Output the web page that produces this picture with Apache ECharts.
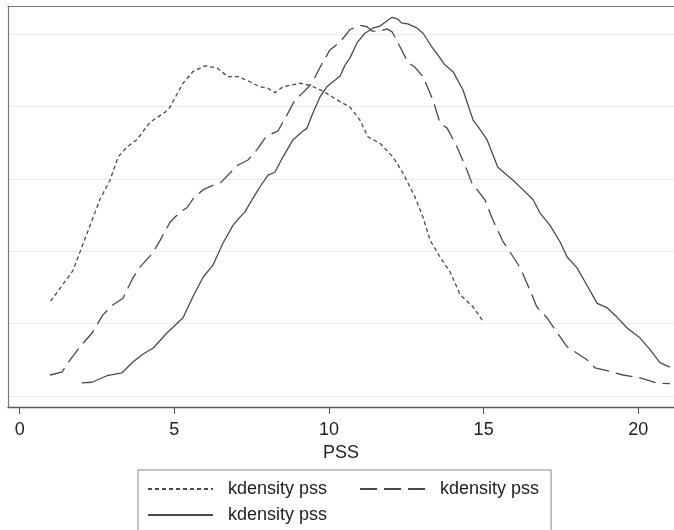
<!DOCTYPE html>
<html lang="en">
<head>
    <meta charset="UTF-8">
    <title>kdensity pss</title>
    <script src="https://cdn.jsdelivr.net/npm/echarts@6.0.0/dist/echarts.min.js"></script>
    <style>
        html, body { margin: 0; padding: 0; background: #fff; }
        #chart { width: 674px; height: 530px; }
    </style>
</head>
<body>
    <div id="chart"></div>
    <script>
        // x ticks and y gridlines
        const xTicks = [0, 5, 10, 15, 20];
        const yGrid = [0, 0.02, 0.04, 0.06, 0.08, 0.1];
        const legendLabel = 'kdensity pss';

        // short-dash curve
        const pssX1 = [1.0, 1.72, 1.95, 2.60, 2.92, 3.18, 3.47, 3.79, 4.21, 4.70, 4.86, 5.28, 5.60, 5.99, 6.38, 6.73,
            7.06, 7.45, 7.77, 8.03, 8.25, 8.51, 9.06, 9.39, 9.81, 10.26, 10.68, 11.0, 11.26, 11.65, 12.07, 12.39,
            12.78, 13.04, 13.27, 13.59, 13.92, 14.24, 14.66, 15.0];
        const pssY1 = [.0262, .0346, .0398, .0544, .0596, .0660, .0688, .0708, .0756, .0784, .0798, .0864, .0896, .0912, .0906, .0882,
            .0882, .0868, .0854, .0850, .0838, .0854, .0864, .0858, .0842, .0818, .0798, .0762, .0716, .0698, .0660, .0616,
            .0550, .0494, .0430, .0384, .0342, .0280, .0246, .0204];

        // long-dash curve
        const pssX2 = [0.98, 1.36, 1.63, 1.95, 2.34, 2.69, 3.02, 3.34, 3.66, 3.89, 4.31, 4.54, 4.86, 5.18, 5.41, 5.60,
            5.93, 6.25, 6.48, 6.80, 7.06, 7.38, 7.67, 7.93, 8.19, 8.35, 8.64, 8.90, 9.16, 9.45, 9.71, 10.03,
            10.36, 10.68, 11.0, 11.23, 11.39, 11.65, 11.87, 12.04, 12.30, 12.55, 12.78, 13.04, 13.36, 13.59, 13.82, 14.14,
            14.46, 14.62, 14.88, 15.04, 15.30, 15.63, 15.85, 16.17, 16.50, 16.72, 17.05, 17.37, 17.70, 18.02, 18.34, 18.60,
            18.99, 19.51, 20.06, 20.60, 21.02];
        const pssY2 = [.0058, .0066, .0100, .0136, .0174, .0224, .0252, .0270, .0326, .0356, .0396, .0430, .0480, .0508, .0520, .0544,
            .0570, .0582, .0588, .0616, .0638, .0652, .0680, .0712, .0726, .0732, .0776, .0818, .0838, .0864, .0908, .0956,
            .0978, .1012, .1024, .1020, .1008, .1008, .1014, .1006, .0964, .0922, .0908, .0882, .0818, .0754, .0740, .0688,
            .0624, .0588, .0560, .0542, .0486, .0426, .0398, .0356, .0292, .0246, .0216, .0176, .0136, .0118, .0100, .0078,
            .0070, .0058, .0050, .0036, .0034];

        // solid curve
        const pssX3 = [2.01, 2.34, 2.82, 3.31, 3.66, 3.99, 4.31, 4.76, 5.28, 5.60, 5.93, 6.25, 6.57, 6.90, 7.12, 7.28,
            7.51, 7.77, 8.03, 8.25, 8.51, 8.84, 9.13, 9.29, 9.48, 9.71, 9.93, 10.19, 10.36, 10.52, 10.68, 10.91,
            11.16, 11.42, 11.65, 11.87, 12.04, 12.20, 12.36, 12.55, 12.85, 13.04, 13.33, 13.59, 13.75, 14.01, 14.33, 14.66,
            14.82, 15.11, 15.46, 15.76, 15.95, 16.27, 16.60, 16.82, 17.14, 17.47, 17.70, 18.02, 18.34, 18.67, 18.99, 19.31,
            19.64, 20.06, 20.38, 20.70, 21.02];
        const pssY3 = [.0036, .0038, .0056, .0064, .0094, .0116, .0132, .0174, .0216, .0274, .0328, .0362, .0422, .0472, .0494, .0508,
            .0542, .0578, .0610, .0618, .0660, .0708, .0730, .0740, .0782, .0826, .0854, .0872, .0884, .0914, .0934, .0976,
            .1002, .1016, .1022, .1036, .1046, .1042, .1030, .1028, .1016, .1002, .0964, .0934, .0914, .0896, .0846, .0762,
            .0744, .0708, .0632, .0610, .0596, .0570, .0542, .0506, .0472, .0426, .0384, .0354, .0306, .0256, .0244, .0218,
            .0188, .0160, .0128, .0092, .0080];

        function pairs(xs, ys) {
            return xs.map(function (x, i) { return [x, ys[i]]; });
        }

        const lineColor = '#4a4a4a';
        const frameColor = '#5a5a5a';
        const font = 'Liberation Sans, Arial, sans-serif';

        const chart = echarts.init(document.getElementById('chart'));
        chart.setOption({
            animation: false,
            backgroundColor: '#fff',
            grid: {
                left: 8, right: 0, top: 6, bottom: 123,
                outerBoundsMode: 'none'
            },
            xAxis: [{
                type: 'value',
                min: -0.378, max: 21.155,
                position: 'bottom',
                name: 'PSS',
                nameLocation: 'middle',
                nameGap: 31,
                nameTextStyle: { fontFamily: font, fontSize: 18, color: '#222' },
                axisLine: { show: true, onZero: false, lineStyle: { color: frameColor, width: 1.3 } },
                axisTick: { show: true, length: 7, customValues: xTicks, lineStyle: { color: frameColor, width: 1 } },
                axisLabel: { customValues: xTicks, margin: 14, fontFamily: font, fontSize: 18, color: '#222' },
                splitLine: { show: false }
            }, {
                type: 'value',
                min: -0.378, max: 21.155,
                position: 'top',
                axisLine: { show: true, onZero: false, lineStyle: { color: '#777', width: 1.2 } },
                axisTick: { show: false },
                axisLabel: { show: false },
                splitLine: { show: false }
            }],
            yAxis: {
                type: 'value',
                min: -0.00304, max: 0.10773,
                position: 'left',
                axisLine: { show: true, onZero: false, lineStyle: { color: '#777', width: 1.2 } },
                axisTick: { show: false, customValues: yGrid },
                axisLabel: { show: false, customValues: yGrid },
                splitLine: { show: true, lineStyle: { color: '#ececec', width: 1 } }
            },
            legend: {
                left: 138, top: 470,
                width: 400,
                orient: 'horizontal',
                padding: [9, 12, 12, 9],
                itemGap: 6,
                itemWidth: 65,
                itemHeight: 14,
                itemStyle: { opacity: 0 },
                backgroundColor: '#fff',
                borderColor: '#888',
                borderWidth: 1,
                borderRadius: 0,
                textStyle: { fontFamily: font, fontSize: 18, color: '#222', lineHeight: 20 },
                data: [
                    { name: 'a', textStyle: { padding: [0, 26, 0, 10] } },
                    { name: 'b', textStyle: { padding: [0, 0, 0, 10] } },
                    { name: 'c', textStyle: { padding: [0, 26, 0, 10] } }
                ],
                formatter: function () { return legendLabel; }
            },
            series: [{
                name: 'a',
                type: 'line',
                symbol: 'none',
                data: pairs(pssX1, pssY1),
                lineStyle: { color: lineColor, width: 1.3, type: [4, 3] },
                itemStyle: { color: lineColor }
            }, {
                name: 'b',
                type: 'line',
                symbol: 'none',
                data: pairs(pssX2, pssY2),
                lineStyle: { color: lineColor, width: 1.3, type: [17, 7] },
                itemStyle: { color: lineColor }
            }, {
                name: 'c',
                type: 'line',
                symbol: 'none',
                data: pairs(pssX3, pssY3),
                lineStyle: { color: lineColor, width: 1.3, type: 'solid' },
                itemStyle: { color: lineColor }
            }]
        });
    </script>
</body>
</html>
